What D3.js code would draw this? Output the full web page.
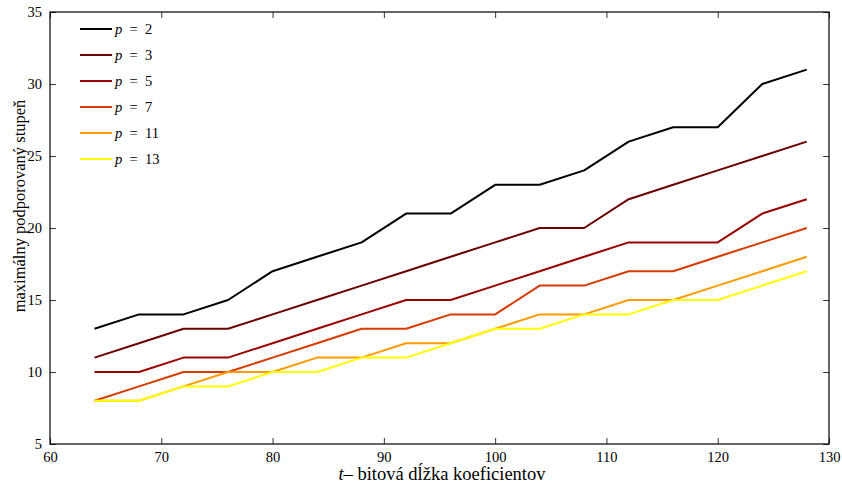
<!DOCTYPE html>
<html>
<head>
<meta charset="utf-8">
<script src="https://cdn.jsdelivr.net/npm/d3@7"></script>
<style>
  body { margin: 0; background: #fff; }
  text { font-family: "Liberation Serif", "DejaVu Serif", serif; }
</style>
</head>
<body>
<svg id="chart" width="842" height="487"></svg>
<script>
// bit lengths t
var tvals = [64, 68, 72, 76, 80, 84, 88, 92, 96, 100, 104, 108, 112, 116, 120, 124, 128]

var p2  = [13, 14, 14, 15, 17, 18, 19, 21, 21, 23, 23, 24, 26, 27, 27, 30, 31]
var p3  = [11, 12, 13, 13, 14, 15, 16, 17, 18, 19, 20, 20, 22, 23, 24, 25, 26]
var p5  = [10, 10, 11, 11, 12, 13, 14, 15, 15, 16, 17, 18, 19, 19, 19, 21, 22]
var p7  = [8, 9, 10, 10, 11, 12, 13, 13, 14, 14, 16, 16, 17, 17, 18, 19, 20]
var p11 = [8, 8, 9, 10, 10, 11, 11, 12, 12, 13, 14, 14, 15, 15, 16, 17, 18]
var p13 = [8, 8, 9, 9, 10, 10, 11, 11, 12, 13, 13, 14, 14, 15, 15, 16, 17]

var labels = ['2', '3', '5', '7', '11', '13']
var colors = ['#000000', '#6b0000', '#9b0000', '#d83a00', '#ff9a00', '#ffff00']
var series = [p2, p3, p5, p7, p11, p13]

var xTicks = [60, 70, 80, 90, 100, 110, 120, 130]
var yTicks = [5, 10, 15, 20, 25, 30, 35]

var svg = d3.select('#chart')
var pLeft = 50, pRight = 829, pTop = 12, pBottom = 444

var x = d3.scaleLinear().domain([60, 130]).range([pLeft, pRight])
var y = d3.scaleLinear().domain([5, 35]).range([pBottom, pTop])

// axes, ticks pointing inward like matlab
function styleAxis(g) {
    g.attr('font-family', null)
    g.select('.domain').remove()
    g.selectAll('line').attr('stroke', '#000').attr('stroke-width', 0.8)
    g.selectAll('text').attr('font-size', 14.5).attr('fill', '#000')
}

svg.append('g').attr('transform', 'translate(0,' + pBottom + ')')
    .call(d3.axisBottom(x).tickValues(xTicks).tickSize(-6).tickPadding(8))
    .call(styleAxis)
svg.append('g').attr('transform', 'translate(0,' + pTop + ')')
    .call(d3.axisTop(x).tickValues(xTicks).tickSize(-6).tickFormat(''))
    .call(styleAxis)
svg.append('g').attr('transform', 'translate(' + pLeft + ',0)')
    .call(d3.axisLeft(y).tickValues(yTicks).tickSize(-6).tickPadding(8))
    .call(styleAxis)
svg.append('g').attr('transform', 'translate(' + pRight + ',0)')
    .call(d3.axisRight(y).tickValues(yTicks).tickSize(-6).tickFormat(''))
    .call(styleAxis)

svg.append('rect')
    .attr('x', pLeft).attr('y', pTop)
    .attr('width', pRight - pLeft).attr('height', pBottom - pTop)
    .attr('fill', 'none').attr('stroke', '#000').attr('stroke-width', 1.2)

var line = d3.line()
    .x(function(d, i) { return x(tvals[i]) })
    .y(function(d) { return y(d) })

for (var i = 0; i < series.length; i++) {
    svg.append('path')
        .datum(series[i])
        .attr('d', line)
        .attr('fill', 'none')
        .attr('stroke', colors[i])
        .attr('stroke-width', 2)
        .attr('stroke-linejoin', 'round')
}

// legend
var leg = svg.append('g')
for (var i = 0; i < labels.length; i++) {
    var ly = 29 + i * 26
    leg.append('line')
        .attr('x1', 80).attr('x2', 112)
        .attr('y1', ly).attr('y2', ly)
        .attr('stroke', colors[i]).attr('stroke-width', 2)
    var t = leg.append('text')
        .attr('x', 115).attr('y', ly + 5)
        .attr('font-size', 14.5)
    t.append('tspan').attr('font-style', 'italic').text('p')
    t.append('tspan').text('\u2002=\u2002' + labels[i])
}

// axis labels
var xl = svg.append('text')
    .attr('x', 442).attr('y', 480)
    .attr('text-anchor', 'middle')
    .attr('font-size', 18.5)
xl.append('tspan').attr('font-style', 'italic').text('t')
xl.append('tspan').text('– bitová dĺžka koeficientov')

svg.append('text')
    .attr('transform', 'translate(25,206) rotate(-90)')
    .attr('text-anchor', 'middle')
    .attr('font-size', 16.5)
    .text('maximálny podporovaný stupeň')
</script>
</body>
</html>
